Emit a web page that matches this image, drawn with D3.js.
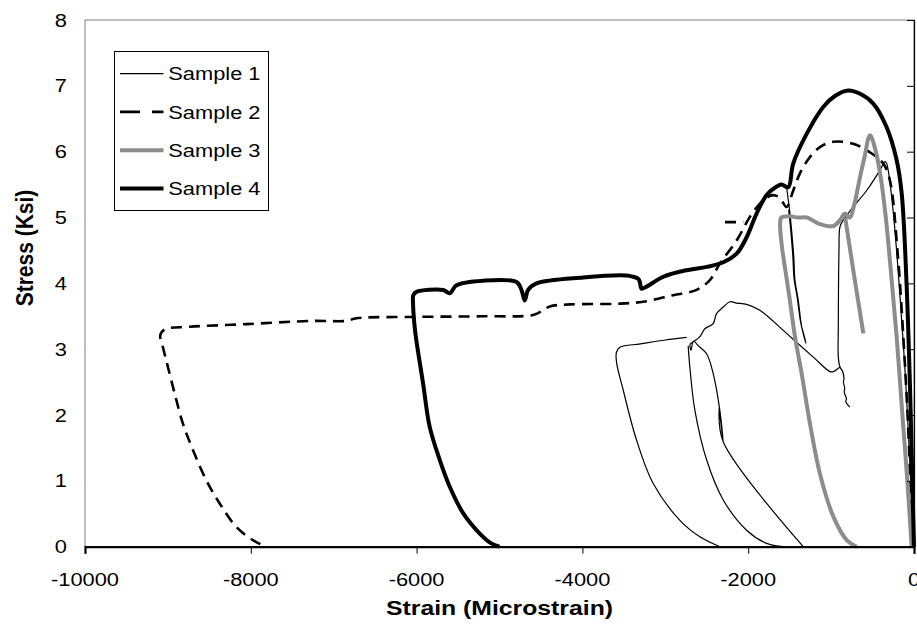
<!DOCTYPE html>
<html><head><meta charset="utf-8">
<script src="https://cdn.jsdelivr.net/npm/d3@7"></script>
<style>body{margin:0;background:#fff}</style>
</head><body><svg id="c" width="917" height="625"></svg>
<script>
const xTicks = [-10000,-8000,-6000,-4000,-2000,0];
const yTicks = [0,1,2,3,4,5,6,7,8];
const seriesNames = ["Sample 1","Sample 2","Sample 3","Sample 4"];
const xTitle = "Strain (Microstrain)";
const yTitle = "Stress (Ksi)";

// [strain, stress]; null = break in the line
const sample1 = [
  [0,0],[-40,1.0],[-100,2.5],[-180,4.0],[-260,5.2],[-330,5.82],[-350,5.85],[-410,5.72],[-571,5.41],[-733,5.16],[-853,4.96],[-893,4.86],[-905,4.5],[-913,3.34],[-913,2.88],[-893,2.73],[-860,2.66],
  [-845,2.55],[-852,2.5],[-835,2.4],[-842,2.35],[-815,2.25],[-822,2.2],[-773,2.12],
  null,
  [-893,2.73],[-974,2.66],[-1014,2.66],[-1215,2.88],[-1537,3.24],[-1859,3.59],[-2019,3.68],[-2140,3.70],[-2221,3.72],[-2301,3.64],[-2382,3.54],[-2422,3.39],[-2523,3.31],[-2583,3.19],[-2664,3.11],[-2700,3.08],[-2690,2.98],[-2660,3.12],[-2600,3.05],[-2502,2.93],[-2422,2.63],[-2342,2.07],[-2301,1.59],[-2312,1.70],[-2350,2.10],[-2300,1.59],[-1336,0],
  null,
  [-2724,3.05],[-2704,2.73],[-2643,2.07],[-2502,1.32],[-2301,0.71],[-2019,0.25],[-1778,0.05],[-1577,0],
  null,
  [-2743,3.18],[-3000,3.14],[-3300,3.08],[-3548,3.03],[-3590,2.95],[-3588,2.8],[-3508,2.38],[-3347,1.62],[-3146,0.96],[-2824,0.40],[-2583,0.15],[-2342,0],
  null,
  [-1537,5.46],[-1500,5.1],[-1476,4.8],[-1450,4.4],[-1436,4.05],[-1396,3.74],[-1355,3.34],[-1304,3.09],[-1316,3.16],[-1366,3.40],[-1408,3.78],[-1447,4.08],[-1462,4.42],[-1488,4.82],[-1512,5.12]
];
const sample2 = [
  [-20,0],[-60,1.5],[-120,3.0],[-200,4.5],[-290,5.56],[-371,5.82],[-531,5.99],[-733,6.12],[-974,6.15],[-1135,6.07],[-1255,5.92],[-1376,5.67],[-1460,5.4],[-1537,5.16],[-1620,5.30],[-1698,5.34],[-1780,5.30],[-1859,5.21],[-1980,5.01],[-2140,4.65],[-2342,4.30],[-2462,4.05],[-2623,3.90],[-2905,3.82],[-3267,3.72],[-3588,3.69],[-4152,3.68],[-4393,3.65],[-4473,3.59],[-4594,3.52],[-5198,3.50],[-6043,3.49],[-6727,3.47],[-6848,3.43],[-7250,3.43],[-8054,3.38],[-8738,3.34],[-9040,3.30],[-9092,3.21],[-9060,3.03],[-9000,2.73],[-8919,2.33],[-8819,1.87],[-8698,1.47],[-8537,1.01],[-8377,0.66],[-8175,0.30],[-7975,0.10],[-7813,0],
  null,
  [-2280,4.93],[-2060,4.93]
];
const sample3 = [
  [-28,0],[-80,1.0],[-140,2.0],[-210,3.2],[-280,4.2],[-340,5.0],[-400,5.6],[-470,6.05],[-531,6.25],[-600,5.9],[-652,5.61],[-720,5.2],[-773,5.0],[-833,5.06],[-893,4.96],[-974,4.87],[-1135,4.9],[-1215,4.95],[-1295,5.0],[-1400,5.0],[-1500,5.02],[-1600,5.0],[-1615,4.9],[-1597,4.6],[-1540,4.1],[-1497,3.74],[-1436,3.19],[-1355,2.63],[-1255,1.87],[-1135,1.11],[-974,0.46],[-812,0.10],[-691,0],
  null,
  [-830,5.0],[-720,4.1],[-611,3.24]
];
const sample4 = [
  [0,0],[-20,1.0],[-50,2.5],[-90,4.0],[-148,5.36],[-209,5.87],[-330,6.37],[-491,6.73],[-650,6.88],[-793,6.93],[-950,6.85],[-1095,6.68],[-1295,6.27],[-1457,5.82],[-1517,5.46],[-1597,5.50],[-1657,5.47],[-1778,5.34],[-1899,5.06],[-2019,4.70],[-2140,4.45],[-2301,4.32],[-2500,4.25],[-2743,4.20],[-3025,4.10],[-3226,3.95],[-3287,3.92],[-3307,4.02],[-3327,4.07],[-3388,4.10],[-3468,4.12],[-3991,4.09],[-4554,4.00],[-4655,3.90],[-4695,3.74],[-4735,3.90],[-4795,4.02],[-5198,4.04],[-5519,3.97],[-5600,3.85],[-5680,3.90],[-6002,3.87],[-6040,3.82],[-6043,3.7],[-6020,3.3],[-5922,2.48],[-5842,1.82],[-5721,1.32],[-5600,0.91],[-5439,0.51],[-5238,0.20],[-5100,0.05],[-5000,0]
];

const styles = [
  {color:"#000", width:1.2, dash:null, legendDash:null},
  {color:"#000", width:2.6, dash:"11,7", legendDash:"20,12"},
  {color:"#8c8c8c", width:4, dash:null, legendDash:null},
  {color:"#000", width:4, dash:null, legendDash:null}
];
const allSeries = [sample1, sample2, sample3, sample4];

const FONT = "'Liberation Sans', Arial, sans-serif";
const SX = 1.18;
const svg = d3.select("#c");
const L = 85, R = 914, T = 20, B = 546.7;
const x = d3.scaleLinear().domain([-10000,0]).range([L,R]);
const y = d3.scaleLinear().domain([0,8]).range([B,T]);

// plot frame
svg.append("rect").attr("x",L).attr("y",T).attr("width",R-L).attr("height",B-T)
  .attr("fill","none").attr("stroke","#808080").attr("stroke-width",1);

// data
const line = d3.line().defined(d => d !== null).x(d => x(d[0])).y(d => y(d[1]))
  .curve(d3.curveCatmullRom.alpha(0.5));
allSeries.forEach((s,i) => {
  const st = styles[i];
  svg.append("path").attr("d", line(s)).attr("fill","none")
    .attr("stroke", st.color).attr("stroke-width", st.width)
    .attr("stroke-linejoin","round")
    .attr("stroke-dasharray", st.dash);
});

// x axis
const xa = svg.append("g").attr("transform",`translate(0,${B})`)
  .call(d3.axisBottom(x).tickValues(xTicks).tickSize(7).tickFormat(""));
xa.select(".domain").attr("stroke","#000").attr("stroke-width",2.2);
xa.selectAll(".tick line").attr("stroke","#000");
// y axis (at x = 0)
const ya = svg.append("g").attr("transform",`translate(${R},0)`)
  .call(d3.axisLeft(y).tickValues(yTicks).tickSize(7).tickFormat(""));
ya.select(".domain").attr("stroke","#000").attr("stroke-width",1.2);
ya.selectAll(".tick line").attr("stroke","#000");

// tick labels
xTicks.forEach(v => {
  svg.append("text").attr("transform",`translate(${x(v)},586) scale(${SX},1)`)
    .attr("text-anchor","middle").attr("font-family",FONT).attr("font-size",18.5)
    .attr("fill","#000").text(v);
});
yTicks.forEach(v => {
  svg.append("text").attr("transform",`translate(67,${y(v)+6.6}) scale(${SX},1)`)
    .attr("text-anchor","end").attr("font-family",FONT).attr("font-size",18.5)
    .attr("fill","#000").text(v);
});

// axis titles
svg.append("text").attr("transform",`translate(${(L+R)/2},615) scale(${SX},1)`)
  .attr("text-anchor","middle").attr("font-family",FONT).attr("font-size",21)
  .attr("font-weight","bold").text(xTitle);
svg.append("text").attr("transform",`translate(33,248) scale(${SX},1) rotate(-90)`)
  .attr("text-anchor","middle").attr("font-family",FONT).attr("font-size",21)
  .attr("font-weight","bold").text(yTitle);

// legend
const lg = svg.append("g");
lg.append("rect").attr("x",114.5).attr("y",51.5).attr("width",154).attr("height",159)
  .attr("fill","#fff").attr("stroke","#000").attr("stroke-width",1);
seriesNames.forEach((n,i) => {
  const cy = 73.6 + i*38.3;
  const st = styles[i];
  lg.append("line").attr("x1",120).attr("x2",163.5).attr("y1",cy).attr("y2",cy)
    .attr("stroke",st.color).attr("stroke-width",st.width).attr("stroke-dasharray",st.legendDash);
  lg.append("text").attr("transform",`translate(168.3,${cy+6.6}) scale(${SX},1)`)
    .attr("font-family",FONT).attr("font-size",18.5).attr("fill","#000").text(n);
});
</script>
</body></html>
